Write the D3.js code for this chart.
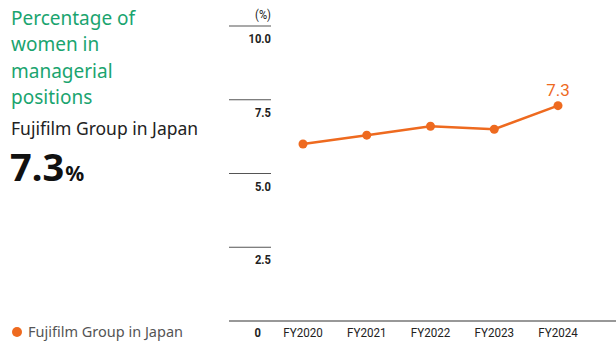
<!DOCTYPE html>
<html>
<head>
<meta charset="utf-8">
<script src="https://cdn.jsdelivr.net/npm/d3@7"></script>
<style>
  body { margin: 0; background: #fff; }
  svg { display: block; }
</style>
</head>
<body>
<div id="chart"></div>
<script>
// data
var years = ["FY2020", "FY2021", "FY2022", "FY2023", "FY2024"];
var values = [6.0, 6.3, 6.6, 6.5, 7.3];
var yTicks = [0, 2.5, 5.0, 7.5, 10.0];
var titleLines = ["Percentage of", "women in", "managerial", "positions"];
var seriesName = "Fujifilm Group in Japan";
var headline = "7.3";

var orange = "#ee6a1f",
    green = "#1aa46f";
var narrow = "'Roboto', sans-serif";

var W = 616, H = 341;
var svg = d3.select("#chart")
  .append("svg")
    .attr("width", W)
    .attr("height", H);

// left text block
svg.selectAll(".title")
  .data(titleLines)
  .enter().append("text")
    .attr("class", "title")
    .attr("x", 11)
    .attr("y", function(d, i) { return 25 + i * 26.3; })
    .style("font-family", "'Noto Sans', sans-serif")
    .style("font-size", "19px")
    .attr("fill", green)
    .text(function(d) { return d; });

svg.append("text")
  .attr("x", 11)
  .attr("y", 135)
  .style("font-family", "'Noto Sans', sans-serif")
  .style("font-size", "17.5px")
  .attr("fill", "#222")
  .text(seriesName);

var big = svg.append("text")
  .attr("x", 10)
  .attr("y", 181)
  .style("font-family", "'Noto Sans', sans-serif")
  .style("font-weight", "bold")
  .attr("fill", "#111");
big.append("tspan").style("font-size", "38px").text(headline);
big.append("tspan").style("font-size", "21px").attr("dx", 1).text("%");

// legend
svg.append("circle")
  .attr("cx", 17)
  .attr("cy", 332)
  .attr("r", 5)
  .attr("fill", orange);
svg.append("text")
  .attr("x", 28)
  .attr("y", 337)
  .style("font-family", "'Noto Sans', sans-serif")
  .style("font-size", "14.5px")
  .attr("fill", "#555")
  .text(seriesName);

// chart
var tickX0 = 229, tickX1 = 271;
var y = d3.scaleLinear().domain([0, 10]).range([321, 26]);
var x = d3.scalePoint().domain(years).range([303, 558]);

var ticks = svg.append("g");
ticks.selectAll("line")
  .data(yTicks)
  .enter().append("line")
    .attr("x1", tickX0)
    .attr("x2", function(d) { return d === 0 ? W : tickX1; })
    .attr("y1", function(d) { return y(d); })
    .attr("y2", function(d) { return y(d); })
    .attr("stroke", function(d) { return d === 0 ? "#333" : "#555"; })
    .attr("stroke-width", 1.2);

// condensed look: scale text horizontally
function squeeze(sel, px, py) {
  sel.attr("transform", function(d, i) {
    return "translate(" + px(d, i) + "," + py(d, i) + ") scale(0.86,1)";
  });
}

ticks.selectAll("text")
  .data(yTicks)
  .enter().append("text")
    .attr("text-anchor", "end")
    .style("font-family", narrow)
    .style("font-weight", "bold")
    .style("font-size", "13px")
    .attr("fill", "#222")
    .text(function(d) { return d === 0 ? "0" : d3.format(".1f")(d); })
    .call(squeeze,
      function(d) { return d === 0 ? 261 : tickX1; },
      function(d) { return d === 0 ? 337 : y(d) + 17; });

svg.append("text")
  .attr("text-anchor", "end")
  .style("font-family", narrow)
  .style("font-size", "13px")
  .attr("fill", "#222")
  .text("(%)")
  .call(squeeze, function() { return tickX1; }, function() { return 19; });

svg.append("g").selectAll("text")
  .data(years)
  .enter().append("text")
    .attr("text-anchor", "middle")
    .style("font-family", narrow)
    .style("font-size", "13.5px")
    .attr("fill", "#222")
    .text(function(d) { return d; })
    .call(squeeze, function(d) { return x(d); }, function() { return 337; });

var pts = years.map(function(d, i) { return [d, values[i]]; });

svg.append("path")
  .datum(pts)
  .attr("fill", "none")
  .attr("stroke", orange)
  .attr("stroke-width", 2.5)
  .attr("d", d3.line()
    .x(function(d) { return x(d[0]); })
    .y(function(d) { return y(d[1]); }));

svg.selectAll(".dot")
  .data(pts)
  .enter().append("circle")
    .attr("class", "dot")
    .attr("cx", function(d) { return x(d[0]); })
    .attr("cy", function(d) { return y(d[1]); })
    .attr("r", 4.5)
    .attr("fill", orange);

var last = pts[pts.length - 1];
svg.append("text")
  .attr("x", x(last[0]))
  .attr("y", y(last[1]) - 10)
  .attr("text-anchor", "middle")
  .style("font-family", "'Roboto', sans-serif")
  .style("font-size", "17px")
  .attr("fill", orange)
  .text(d3.format(".1f")(last[1]));
</script>
</body>
</html>
